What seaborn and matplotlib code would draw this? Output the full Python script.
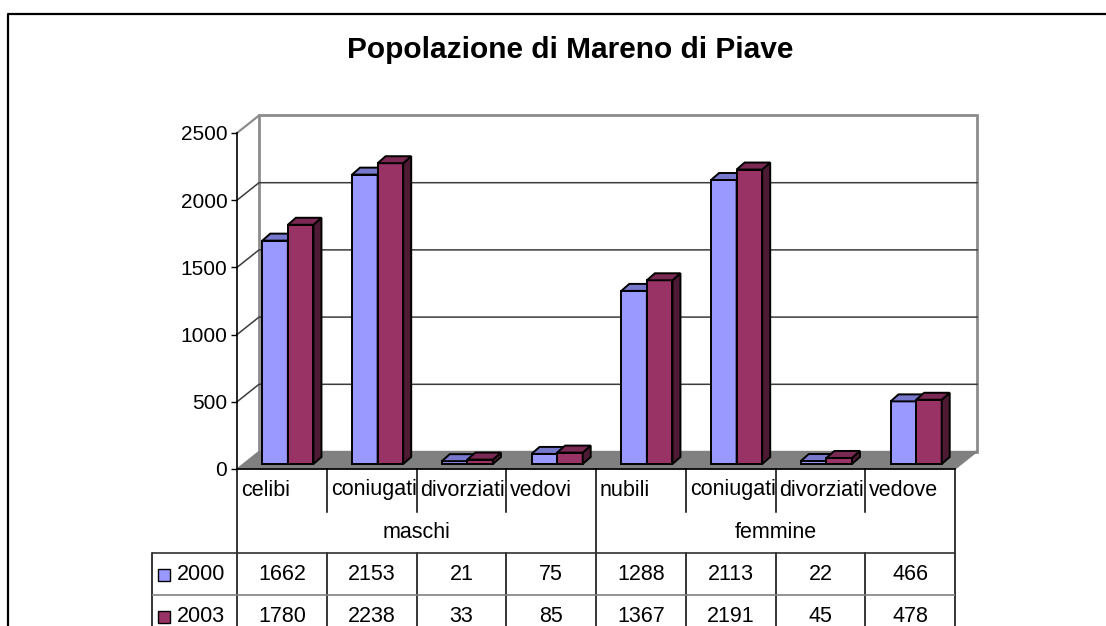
import matplotlib
matplotlib.use("Agg")
import matplotlib.pyplot as plt
from matplotlib.patches import Polygon, Rectangle
import seaborn as sns
import pandas as pd

groups = ["maschi", "femmine"]
categories = ["celibi", "coniugati", "divorziati", "vedovi",
              "nubili", "coniugati", "divorziati", "vedove"]
years = ["2000", "2003"]
values_2000 = [1662, 2153, 21, 75, 1288, 2113, 22, 466]
values_2003 = [1780, 2238, 33, 85, 1367, 2191, 45, 478]
palette = {"2000": "#9999FF", "2003": "#993366"}
tops = {"2000": "#7777CC", "2003": "#7A2952"}
sides = {"2000": "#4D4D80", "2003": "#4D1A33"}

keys = [f"{groups[i // 4]}-{c}" for i, c in enumerate(categories)]
df = pd.DataFrame({
    "key": keys * 2,
    "year": ["2000"] * 8 + ["2003"] * 8,
    "value": values_2000 + values_2003,
})

W, H = 1106, 626
plt.rcParams["font.family"] = ["Liberation Sans", "DejaVu Sans"]
fig = plt.figure(figsize=(W / 100, H / 100), dpi=100)

# background layer: frame + title (pixel coords)
bg = fig.add_axes([0, 0, 1, 1], zorder=-5)
bg.set_xlim(0, W)
bg.set_ylim(H, 0)
bg.axis("off")
bg.plot([8, 8, W + 5], [H + 5, 14, 14], color="black", lw=1.6, solid_capstyle="butt")
bg.text(570, 58, "Popolazione di Mareno di Piave", ha="center", va="baseline",
        fontsize=21.5, fontweight="bold")

# plot area (front plane)
x0, x1, y0, y1 = 237, 955, 469, 133
ax = fig.add_axes([x0 / W, 1 - y0 / H, (x1 - x0) / W, (y0 - y1) / H])
ax.patch.set_alpha(0)

pxu = (x1 - x0) / 8.0           # pixels per category
pyu = (y0 - y1) / 2500.0        # pixels per unit value
DX, DY = 22 / pxu, 17.5 / pyu   # depth of the box
BX, BY = 6 / pxu, 5 / pyu       # bar position inside the depth
SX, SY = 8 / pxu, 7 / pyu       # bar thickness

sns.barplot(data=df, x="key", y="value", hue="year", order=keys,
            hue_order=years, palette=palette, width=0.57, saturation=1,
            edgecolor="black", linewidth=1.4, legend=False, ax=ax)

ax.set_xlim(-0.5, 7.5)
ax.set_ylim(0, 2500)
ax.set_xticks([])
ax.set_xlabel("")
ax.set_ylabel("")
ax.set_yticks(range(0, 2501, 500))
ax.tick_params(axis="y", length=4, width=1, pad=3, labelsize=15, colors="black")
for s in ["top", "right"]:
    ax.spines[s].set_visible(False)
for s in ["left", "bottom"]:
    ax.spines[s].set_color("black")
    ax.spines[s].set_linewidth(1.2)
    ax.spines[s].set_zorder(6)

# back wall, floor, side wall
wall = Rectangle((-0.5 + DX, DY), 8, 2500, facecolor="white", edgecolor="#8C8C8C",
                 lw=2, zorder=0.5, clip_on=False)
ax.add_patch(wall)
floor = Polygon([(-0.5, 0), (7.5, 0), (7.5 + DX, DY), (-0.5 + DX, DY)],
                closed=True, facecolor="#808080", edgecolor="#808080", lw=1,
                zorder=0.8, clip_on=False)
ax.add_patch(floor)
for v in range(500, 2001, 500):
    ax.plot([-0.5, -0.5 + DX, 7.5 + DX], [v, v + DY, v + DY], color="#3C3C3C",
            lw=1.1, zorder=0.7, clip_on=False)
ax.plot([-0.5, -0.5 + DX], [2500, 2500 + DY], color="#8C8C8C", lw=1.6,
        zorder=0.7, clip_on=False)

# 3D faces for the bars
for zi, (yr, cont) in enumerate(zip(years, ax.containers)):
    for p in cont.patches:
        p.set_x(p.get_x() + BX)
        p.set_y(BY)
        p.set_zorder(2 + zi)
        x, w, h = p.get_x(), p.get_width(), p.get_height()
        top = Polygon([(x, BY + h), (x + w, BY + h), (x + w + SX, BY + h + SY),
                       (x + SX, BY + h + SY)], closed=True, facecolor=tops[yr],
                      edgecolor="black", lw=1.4, zorder=2 + zi, clip_on=False)
        side = Polygon([(x + w, BY), (x + w, BY + h), (x + w + SX, BY + h + SY),
                        (x + w + SX, BY + SY)], closed=True, facecolor=sides[yr],
                       edgecolor="black", lw=1.4, zorder=2 + zi, clip_on=False)
        ax.add_patch(side)
        ax.add_patch(top)

# data table under the chart
tl = 152
tax = fig.add_axes([tl / W, 0, (x1 - tl) / W, (H - y0) / H])
xl = -0.5 - (x0 - tl) / pxu
tax.set_xlim(xl, 7.5)
tax.set_ylim(H - y0, 0)
tax.axis("off")
bot = H - y0 + 5
lk = dict(color="black", lw=1.1, clip_on=False)
for b in [-0.5, 3.5, 7.5]:
    tax.plot([b, b], [0, bot], **lk)
for b in [0.5, 1.5, 2.5, 4.5, 5.5, 6.5]:
    tax.plot([b, b], [0, 43], **lk)
    tax.plot([b, b], [84, bot], **lk)
tax.plot([xl, xl], [84, bot], **lk)
tax.plot([xl, 7.5], [84, 84], color="#303030", lw=1.2)
tax.plot([xl, 7.5], [126, 126], color="#808080", lw=1.2)

for i, c in enumerate(categories):
    t = tax.text(i - 0.5 + 4 / pxu, 21, c, ha="left", va="center", fontsize=15.5)
    t.set_clip_path(Rectangle((i - 0.5, 0), 1, 43, transform=tax.transData))
for g, gname in enumerate(groups):
    tax.text(g * 4 + 1.5, 63, gname, ha="center", va="center", fontsize=15.5)
for r, (yr, vals) in enumerate(zip(years, [values_2000, values_2003])):
    yc = 105 + r * 42
    for i, v in enumerate(vals):
        tax.text(i, yc, str(v), ha="center", va="center", fontsize=15.5)
    sq = 12 / pxu
    tax.add_patch(Rectangle((-0.5 - (x0 - 158) / pxu, yc - 5), sq, 12,
                            facecolor=palette[yr], edgecolor="black", lw=1))
    tax.text(-0.5 - (x0 - 177) / pxu, yc, yr, ha="left", va="center", fontsize=15.5)

fig.savefig("out.png", dpi=100)
